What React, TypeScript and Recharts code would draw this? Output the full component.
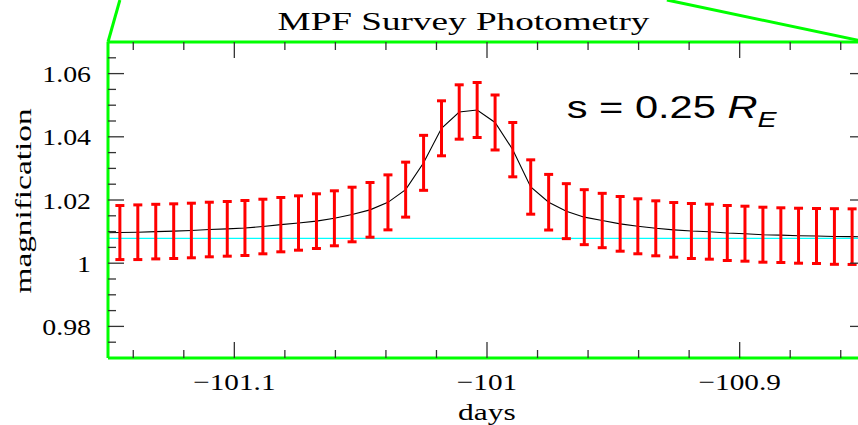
import React from 'react';
import {
  ComposedChart,
  Line,
  XAxis,
  YAxis,
  ErrorBar,
  ReferenceLine,
  Customized,
} from 'recharts';

// ---- data ----
// observation times (days) of the simulated photometry points
const DAYS = [
  -101.1453, -101.1382, -101.1311, -101.1240, -101.1170, -101.1099, -101.1028,
  -101.0958, -101.0887, -101.0816, -101.0746, -101.0675, -101.0604, -101.0534, -101.0463,
  -101.0392, -101.0322, -101.0251, -101.0180, -101.0110, -101.0039, -100.9968, -100.9898,
  -100.9827, -100.9756, -100.9686, -100.9615, -100.9544, -100.9473, -100.9403, -100.9332,
  -100.9261, -100.9191, -100.9120, -100.9049, -100.8979, -100.8908, -100.8837, -100.8767,
  -100.8696, -100.8625, -100.8555,
];
const MAG = [
  1.0097, 1.0098, 1.0100, 1.01014, 1.01035, 1.01066, 1.01087,
  1.01114, 1.01161, 1.0122, 1.01272, 1.01331, 1.01421, 1.01541, 1.01688,
  1.01925, 1.02328, 1.03176, 1.04269, 1.04785, 1.04848, 1.04453, 1.03593,
  1.02411, 1.0193, 1.01647, 1.01457, 1.01351, 1.01245, 1.01168, 1.01104,
  1.01055, 1.01019, 1.00997, 1.00956, 1.00934, 1.00902, 1.00888, 1.0087,
  1.00861, 1.00845, 1.0084,
];
const ERR = [
  0.00855, 0.00865, 0.00864, 0.00865, 0.00864, 0.00864, 0.00865,
  0.0087, 0.00864, 0.0086, 0.0086, 0.00865, 0.0087, 0.00864, 0.00865,
  0.0087, 0.0087, 0.0087, 0.0087, 0.0086, 0.0087, 0.0087, 0.0086,
  0.0086, 0.0088, 0.0087, 0.0087, 0.0086, 0.00865, 0.0087, 0.0087,
  0.00865, 0.0087, 0.0087, 0.0087, 0.0087, 0.0087, 0.00865, 0.0087,
  0.0087, 0.0088, 0.0088,
];
// model points just outside the plotted window (the curve runs to the frame)
const CURVE_EDGE_DAYS = [-101.1523, -100.8484];
const CURVE_EDGE_MAG = [1.0096, 1.0083];
const BASELINE = 1.00788;

const X_DOMAIN = [-101.15, -100.85];
const Y_DOMAIN = [0.97, 1.07];
const X_MAJOR = [-101.1, -101.0, -100.9];
const X_MAJOR_LABELS = ['\u2212101.1', '\u2212101', '\u2212100.9'];
const X_MINOR = [
  -101.14, -101.12, -101.08, -101.06, -101.04, -101.02, -100.98, -100.96,
  -100.94, -100.92, -100.88, -100.86,
];
const Y_MAJOR = [0.98, 1.0, 1.02, 1.04, 1.06];
const Y_MAJOR_LABELS = ['0.98', '1', '1.02', '1.04', '1.06'];
const Y_MINOR = [
  0.975, 0.985, 0.99, 0.995, 1.005, 1.01, 1.015, 1.025, 1.03, 1.035,
  1.045, 1.05, 1.055, 1.065,
];

// zoom-indicator lines leaving the frame corners (data coordinates)
const LEFT_ZOOM_LINE = [
  { x: -101.15, y: 1.07 },
  { x: -101.1453, y: 1.0833 },
];
const RIGHT_ZOOM_LINE = [
  { x: -100.85, y: 1.07 },
  { x: -100.9288, y: 1.0833 },
];

const TITLE = 'MPF Survey Photometry';
const X_LABEL = 'days';
const Y_LABEL = 'magnification';

const points = DAYS.map((d, i) => ({ day: d, mag: MAG[i], err: ERR[i] }));
const curve = [
  { day: CURVE_EDGE_DAYS[0], mag: CURVE_EDGE_MAG[0] },
  ...DAYS.map((d, i) => ({ day: d, mag: MAG[i] })),
  { day: CURVE_EDGE_DAYS[1], mag: CURVE_EDGE_MAG[1] },
];

const X_TICKS = [...X_MAJOR, ...X_MINOR].sort((a, b) => a - b);
const Y_TICKS = [...Y_MAJOR, ...Y_MINOR].sort((a, b) => a - b);

const SERIF = '"Liberation Serif", "Times New Roman", serif';
const SANS = '"Liberation Sans", Arial, sans-serif';
const GREEN = '#00ff00';
const TICK_COLOR = '#333';

const majorIndex = (arr: number[], v: number) =>
  arr.findIndex((m) => Math.abs(m - v) < 1e-6);

const XTick = (props: any) => {
  const { x, y, payload, side } = props;
  const idx = majorIndex(X_MAJOR, payload.value);
  const len = idx >= 0 ? 16 : 8;
  const dir = side === 'top' ? 1 : -1;
  return (
    <g>
      <line x1={x} y1={y} x2={x} y2={y + dir * len} stroke={TICK_COLOR} strokeWidth={1.3} />
      {side === 'bottom' && idx >= 0 && (
        <g transform={`translate(${x},${y + 32}) scale(1.22,1)`}>
          <text x={0} y={0} textAnchor="middle" fontFamily={SERIF} fontSize={24} fill="#000">
            {X_MAJOR_LABELS[idx]}
          </text>
        </g>
      )}
    </g>
  );
};

const YTick = (props: any) => {
  const { x, y, payload, side } = props;
  const idx = majorIndex(Y_MAJOR, payload.value);
  const len = idx >= 0 ? 16 : 8;
  const dir = side === 'left' ? 1 : -1;
  return (
    <g>
      <line x1={x} y1={y} x2={x + dir * len} y2={y} stroke={TICK_COLOR} strokeWidth={1.3} />
      {side === 'left' && idx >= 0 && (
        <g transform={`translate(${x - 17},${y + 8.5}) scale(1.16,1)`}>
          <text x={0} y={0} textAnchor="end" fontFamily={SERIF} fontSize={24} fill="#000">
            {Y_MAJOR_LABELS[idx]}
          </text>
        </g>
      )}
    </g>
  );
};

const Overlay = () => (
  <g>
    <g transform="translate(463.5,29.5) scale(1.43,1)">
      <text x={0} y={0} textAnchor="middle" fontFamily={SERIF} fontSize={26} fill="#000">
        {TITLE}
      </text>
    </g>
    <g transform="translate(487,420) scale(1.37,1)">
      <text x={0} y={0} textAnchor="middle" fontFamily={SERIF} fontSize={23} fill="#000">
        {X_LABEL}
      </text>
    </g>
    <g transform="translate(31,201) rotate(-90) scale(1.45,1)">
      <text x={0} y={0} textAnchor="middle" fontFamily={SERIF} fontSize={23} fill="#000">
        {Y_LABEL}
      </text>
    </g>
    <g transform="translate(566.7,118.3) scale(1.3,1)">
      <text x={0} y={0} fontFamily={SANS} fontSize={32} fill="#000">
        <tspan>s = 0.25 </tspan>
        <tspan fontStyle="italic">R</tspan>
        <tspan fontStyle="italic" fontSize={22} dy={9}>E</tspan>
      </text>
    </g>
  </g>
);

export default function App() {
  return (
    <div
      style={{
        position: 'absolute',
        left: 0,
        top: 0,
        width: 858,
        height: 425,
        overflow: 'hidden',
        background: '#fff',
      }}
    >
      <ComposedChart
        width={880}
        height={425}
        margin={{ top: 41, right: 13, bottom: 0, left: 0 }}
      >
        <XAxis
          xAxisId="bottom"
          dataKey="day"
          type="number"
          domain={X_DOMAIN}
          allowDataOverflow
          ticks={X_TICKS}
          interval={0}
          height={67}
          axisLine={{ stroke: GREEN, strokeWidth: 3 }}
          tickLine={false}
          tickSize={0}
          tickMargin={0}
          tick={(p: any) => <XTick {...p} side="bottom" />}
        />
        <XAxis
          xAxisId="top"
          orientation="top"
          dataKey="day"
          type="number"
          domain={X_DOMAIN}
          allowDataOverflow
          ticks={X_TICKS}
          interval={0}
          height={1}
          axisLine={{ stroke: GREEN, strokeWidth: 3 }}
          tickLine={false}
          tickSize={0}
          tickMargin={0}
          tick={(p: any) => <XTick {...p} side="top" />}
        />
        <YAxis
          yAxisId="left"
          type="number"
          domain={Y_DOMAIN}
          allowDataOverflow
          ticks={Y_TICKS}
          interval={0}
          width={108}
          axisLine={{ stroke: GREEN, strokeWidth: 3 }}
          tickLine={false}
          tickSize={0}
          tickMargin={0}
          tick={(p: any) => <YTick {...p} side="left" />}
        />
        <YAxis
          yAxisId="right"
          orientation="right"
          type="number"
          domain={Y_DOMAIN}
          allowDataOverflow
          ticks={Y_TICKS}
          interval={0}
          width={1}
          axisLine={{ stroke: GREEN, strokeWidth: 3 }}
          tickLine={false}
          tickSize={0}
          tickMargin={0}
          tick={(p: any) => <YTick {...p} side="right" />}
        />
        <ReferenceLine
          xAxisId="bottom"
          yAxisId="left"
          y={BASELINE}
          stroke="#00ffff"
          strokeWidth={1.3}
        />
        <Line
          xAxisId="bottom"
          yAxisId="left"
          data={curve}
          dataKey="mag"
          type="linear"
          stroke="#000"
          strokeWidth={1.1}
          dot={false}
          isAnimationActive={false}
        />
        <Line
          xAxisId="bottom"
          yAxisId="left"
          data={points}
          dataKey="mag"
          type="linear"
          stroke="none"
          dot={false}
          isAnimationActive={false}
        >
          <ErrorBar
            dataKey="err"
            direction="y"
            stroke="#ff0000"
            strokeWidth={3}
            width={4.5}
            isAnimationActive={false}
          />
        </Line>
        <Line
          xAxisId="top"
          yAxisId="right"
          data={points}
          dataKey="mag"
          stroke="none"
          dot={false}
          legendType="none"
          isAnimationActive={false}
        />
        <ReferenceLine
          xAxisId="bottom"
          yAxisId="left"
          segment={LEFT_ZOOM_LINE}
          ifOverflow="visible"
          stroke={GREEN}
          strokeWidth={3}
        />
        <ReferenceLine
          xAxisId="bottom"
          yAxisId="left"
          segment={RIGHT_ZOOM_LINE}
          ifOverflow="visible"
          stroke={GREEN}
          strokeWidth={3}
        />
        <Customized component={Overlay} />
      </ComposedChart>
    </div>
  );
}
